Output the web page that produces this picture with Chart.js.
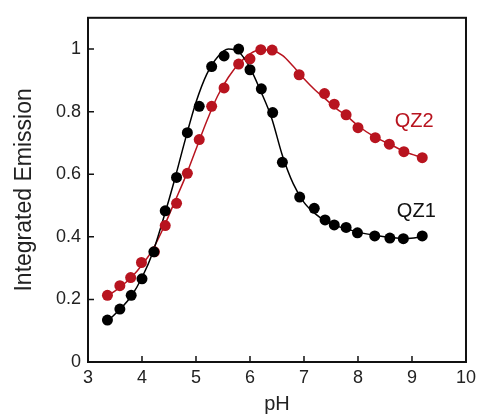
<!DOCTYPE html>
<html>
<head>
<meta charset="utf-8">
<script src="https://cdn.jsdelivr.net/npm/chart.js@4.4.1/dist/chart.umd.min.js"></script>
<style>
html,body{margin:0;padding:0;background:#fff;}
#wrap{width:481px;height:416px;}
</style>
</head>
<body>
<div id="wrap"><canvas id="c" width="481" height="416"></canvas></div>
<script>
const qz1X = [3.36,3.59,3.80,4.00,4.22,4.43,4.64,4.84,5.06,5.29,5.52,5.79,6.00,6.21,6.42,6.60,6.92,7.19,7.39,7.56,7.78,7.99,8.31,8.59,8.84,9.19];
const qz1Y = [0.134,0.169,0.213,0.266,0.352,0.483,0.590,0.733,0.817,0.944,0.978,1.000,0.934,0.873,0.797,0.638,0.527,0.491,0.454,0.438,0.430,0.413,0.403,0.396,0.394,0.403];
const qz2X = [3.36,3.59,3.79,3.99,4.23,4.43,4.64,4.84,5.06,5.29,5.52,5.79,6.00,6.20,6.41,6.91,7.38,7.56,7.78,8.00,8.32,8.58,8.85,9.19];
const qz2Y = [0.213,0.244,0.270,0.318,0.352,0.436,0.507,0.603,0.711,0.817,0.876,0.952,0.969,0.998,0.997,0.918,0.858,0.824,0.790,0.749,0.717,0.696,0.672,0.653];
// Fitted curves
const fit1X = [3.36,3.6,3.8,4.0,4.2,4.4,4.6,4.8,5.0,5.2,5.4,5.6,5.8,6.0,6.2,6.4,6.6,6.8,7.0,7.2,7.4,7.6,7.8,8.0,8.3,8.6,8.9,9.19];
const fit1Y = [0.13,0.17,0.21,0.27,0.35,0.46,0.58,0.71,0.83,0.92,0.975,1.0,0.99,0.94,0.865,0.78,0.66,0.57,0.51,0.475,0.45,0.435,0.425,0.415,0.405,0.398,0.395,0.40];
const fit2X = [3.36,3.6,3.8,4.0,4.2,4.4,4.6,4.8,5.0,5.2,5.4,5.6,5.8,6.0,6.2,6.4,6.6,6.8,7.0,7.2,7.4,7.6,7.8,8.0,8.3,8.6,8.9,9.19];
const fit2Y = [0.21,0.24,0.27,0.31,0.36,0.43,0.51,0.59,0.68,0.77,0.85,0.91,0.955,0.985,0.998,0.996,0.98,0.945,0.905,0.87,0.84,0.81,0.785,0.755,0.72,0.695,0.67,0.653];
const xTicks = [3,4,5,6,7,8,9,10];
const yTicks = [0,0.2,0.4,0.6,0.8,1];
const yTickLabels = ['0','0.2','0.4','0.6','0.8','1'];
const seriesLabels = ['QZ1','QZ2'];

const RED = '#b8141f';
const BLACK = '#000000';
const toPts = (xs, ys) => xs.map((x,i)=>({x:x, y:ys[i]}));

const FONT = "'Liberation Sans', Arial, sans-serif";

const decor = {
  id:'decor',
  afterDraw(chart){
    const ctx = chart.ctx, a = chart.chartArea;
    const xs = chart.scales.x, ys = chart.scales.y;
    ctx.save();
    ctx.strokeStyle = '#111';
    ctx.lineWidth = 2;
    ctx.strokeRect(a.left, a.top, a.right-a.left, a.bottom-a.top);
    ctx.lineWidth = 1.5;
    ctx.beginPath();
    xTicks.forEach(v=>{ const px = xs.getPixelForValue(v); ctx.moveTo(px, a.bottom); ctx.lineTo(px, a.bottom-6); });
    yTicks.forEach(v=>{ const py = ys.getPixelForValue(v); ctx.moveTo(a.left, py); ctx.lineTo(a.left+6, py); });
    ctx.stroke();
    ctx.font = "20px " + FONT;
    ctx.textBaseline = 'middle';
    ctx.textAlign = 'left';
    ctx.fillStyle = RED;
    ctx.fillText(seriesLabels[1], xs.getPixelForValue(8.68), ys.getPixelForValue(0.77));
    ctx.fillStyle = '#111';
    ctx.fillText(seriesLabels[0], xs.getPixelForValue(8.72), ys.getPixelForValue(0.482));
    ctx.restore();
  }
};

new Chart(document.getElementById('c'), {
  type:'scatter',
  data:{
    datasets:[
      {label:'QZ2 fit', type:'line', data:toPts(fit2X, fit2Y), borderColor:RED, borderWidth:1.5, pointRadius:0, tension:0.4, cubicInterpolationMode:'monotone', fill:false, order:4},
      {label:'QZ1 fit', type:'line', data:toPts(fit1X, fit1Y), borderColor:BLACK, borderWidth:1.5, pointRadius:0, tension:0.4, cubicInterpolationMode:'monotone', fill:false, order:3},
      {label:'QZ2', data:toPts(qz2X, qz2Y), backgroundColor:RED, borderColor:RED, pointRadius:5.5, pointBorderWidth:0, order:2},
      {label:'QZ1', data:toPts(qz1X, qz1Y), backgroundColor:BLACK, borderColor:BLACK, pointRadius:5.5, pointBorderWidth:0, order:1}
    ]
  },
  options:{
    responsive:false,
    animation:false,
    layout:{padding:{top:12,right:12,left:0,bottom:0}},
    plugins:{legend:{display:false}, tooltip:{enabled:false}},
    scales:{
      x:{
        type:'linear', min:3, max:10,
        afterBuildTicks(s){ s.ticks = xTicks.map(v=>({value:v})); },
        afterFit(s){ s.height = 54; },
        grid:{display:false, drawTicks:false},
        border:{display:false},
        ticks:{font:{family:FONT, size:18}, color:'#222', padding:5, maxRotation:0},
        title:{display:true, text:'pH', font:{family:FONT, size:20}, color:'#222', padding:{top:0,bottom:0}}
      },
      y:{
        type:'linear', min:0, max:1.1,
        afterBuildTicks(s){ s.ticks = yTicks.map(v=>({value:v})); },
        afterFit(s){ s.width = 88; },
        grid:{display:false, drawTicks:false},
        border:{display:false},
        ticks:{font:{family:FONT, size:18}, color:'#222', padding:7,
          callback:(v, i)=> yTickLabels[i]},
        title:{display:true, text:'Integrated Emission', font:{family:FONT, size:23}, color:'#222', padding:{top:11,bottom:0}}
      }
    }
  },
  plugins:[decor]
});
</script>
</body>
</html>
